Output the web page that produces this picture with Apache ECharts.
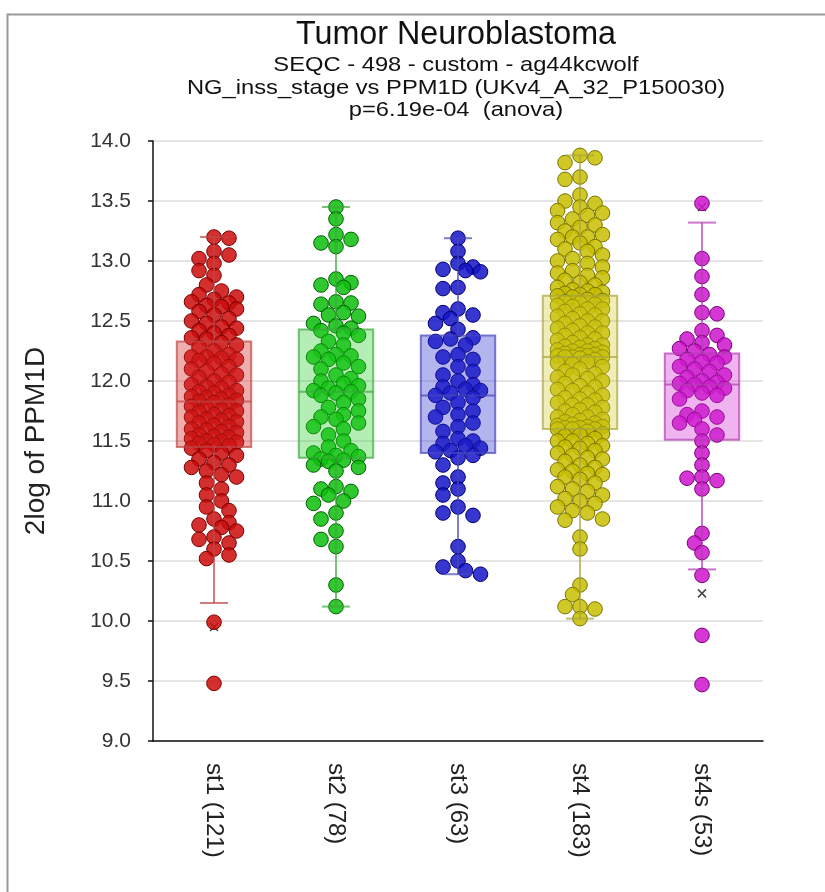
<!DOCTYPE html>
<html><head><meta charset="utf-8">
<script src="https://cdn.jsdelivr.net/npm/echarts@6/dist/echarts.min.js"></script>
<style>html,body{margin:0;padding:0;background:#fff}#c{width:825px;height:892px}</style>
</head><body><div id="c"></div>
<script>
const categories = ['st1 (121)', 'st2 (78)', 'st3 (63)', 'st4 (183)', 'st4s (53)'];
const titleText = 'Tumor Neuroblastoma';
const subtitleLines = ['SEQC - 498 - custom - ag44kcwolf', 'NG_inss_stage vs PPM1D (UKv4_A_32_P150030)', 'p=6.19e-04  (anova)'];

const st1 = [13.2,13.19,13.08,13.05,13.02,12.98,12.92,12.88,12.8,12.75,12.72,12.7,12.68,12.66,12.65,12.63,12.62,12.6,12.58,12.55,12.52,12.5,12.48,12.45,12.44,12.42,12.4,12.38,12.36,12.35,
  12.32,12.3,12.28,12.25,12.22,12.2,12.2,12.19,12.18,12.17,12.15,12.12,12.1,12.08,12.06,12.05,12.03,12.0,11.99,11.97,11.95,11.94,11.92,11.91,11.9,11.88,11.87,11.86,11.85,11.84,
  11.83,
  11.82,11.8,11.79,11.78,11.76,11.75,11.74,11.72,11.71,11.7,11.68,11.67,11.66,11.65,11.63,11.62,11.6,11.59,11.58,11.57,11.55,11.54,11.53,11.52,11.5,11.5,11.49,11.48,11.47,11.46,
  11.44,11.42,11.4,11.38,11.35,11.32,11.3,11.28,11.25,11.22,11.2,11.15,11.1,11.05,11.0,10.95,10.92,10.85,10.82,10.8,10.78,10.75,10.7,10.68,10.65,10.6,10.55,10.52,9.99,9.48];

const st2 = [13.45,13.35,13.22,13.18,13.15,13.12,12.85,12.82,12.8,12.78,12.66,12.65,12.64,12.57,12.55,12.54,12.48,12.46,12.44,
  12.42,12.4,12.38,12.33,12.3,12.25,12.22,12.21,12.2,12.18,12.15,12.12,12.1,12.05,12.02,12.0,11.98,11.96,11.94,11.92,
  11.91,11.9,
  11.88,11.85,11.82,11.78,11.75,11.72,11.7,11.68,11.65,11.62,11.6,11.55,11.5,11.45,11.42,11.4,11.38,11.37,
  11.35,11.34,11.33,11.3,11.28,11.25,11.12,11.1,11.08,11.05,11.0,10.98,10.9,10.85,10.75,10.68,10.62,10.3,10.12];

const st3 = [13.19,13.08,12.98,12.95,12.93,12.92,12.91,12.78,12.77,12.6,12.57,12.55,12.52,12.48,12.43,
  12.36,12.35,12.33,12.3,12.22,12.2,12.18,12.12,12.08,12.05,12.0,11.97,11.95,11.93,11.92,11.9,
  11.88,
  11.86,11.82,11.78,11.75,11.72,11.7,11.65,11.62,11.58,11.52,11.5,11.48,11.46,11.44,11.42,11.41,
  11.38,11.36,11.3,11.2,11.15,11.1,11.05,10.95,10.9,10.88,10.62,10.5,10.45,10.42,10.39];

const st4 = [13.88,13.86,13.82,13.7,13.68,13.55,13.5,13.48,13.45,13.42,13.4,13.38,13.35,13.32,13.3,13.28,13.25,13.22,13.2,13.2,13.18,13.15,13.12,13.1,13.08,13.05,13.02,13.0,12.98,12.95,12.92,12.9,12.88,12.86,12.84,12.82,12.8,12.78,12.76,12.75,12.74,12.73,12.72,12.72,12.71,
  12.7,12.68,12.67,12.66,12.65,12.64,12.63,12.62,12.6,12.6,12.58,12.56,12.55,12.54,12.52,12.5,12.5,12.48,12.46,12.45,12.44,12.42,12.4,12.4,12.38,12.36,12.35,12.34,12.32,12.3,12.3,12.29,12.28,12.27,12.26,12.25,12.25,12.24,12.23,12.22,12.22,12.21,12.21,12.2,12.2,12.2,
  12.19,
  12.18,12.16,12.15,12.14,12.12,12.1,12.08,12.06,12.05,12.03,12.02,12.0,11.98,11.96,11.95,11.93,11.92,11.9,11.88,11.86,11.85,11.84,11.82,11.8,11.8,11.78,11.76,11.75,11.74,11.72,11.7,11.7,11.68,11.67,11.66,11.65,11.64,11.63,11.62,11.62,11.61,11.61,11.6,11.6,11.6,
  11.58,11.56,11.55,11.54,11.52,11.5,11.5,11.48,11.46,11.45,11.44,11.42,11.4,11.38,11.36,11.35,11.33,11.3,11.28,11.26,11.25,11.23,11.22,11.2,11.18,11.15,11.12,11.1,11.08,11.05,11.02,11.0,10.98,10.95,10.92,10.9,10.85,10.84,10.7,10.6,10.3,10.22,10.12,10.12,10.1,10.02];

const st4s = [13.48,13.02,12.87,12.72,12.57,12.56,12.42,12.38,12.35,12.32,12.3,12.27,12.25,
  12.22,12.2,12.18,12.16,12.15,12.12,12.1,12.08,12.05,12.03,12.0,11.99,11.98,
  11.97,
  11.95,11.94,11.92,11.9,11.88,11.85,11.75,11.72,11.7,11.68,11.65,11.6,11.55,
  11.5,11.4,11.3,11.2,11.19,11.17,11.1,10.73,10.65,10.57,10.38,9.88,9.47];

const groups = [st1, st2, st3, st4, st4s];

const boxLow    = [10.15, 10.12, 10.39, 10.02, 10.43];
const boxQ1     = [11.45, 11.36, 11.40, 11.60, 11.51];
const boxMedian = [11.83, 11.91, 11.88, 12.20, 11.97];
const boxQ3     = [12.33, 12.43, 12.38, 12.71, 12.23];
const boxHigh   = [13.20, 13.45, 13.19, 13.88, 13.32];

const crossMarks = [[0, 9.95], [4, 13.45], [4, 10.23]];

const yMin = 9, yMax = 14, yStep = 0.5;

const pointFill   = ['rgba(204,10,10,0.85)','rgba(10,190,10,0.85)','rgba(20,20,200,0.85)','rgba(200,190,0,0.85)','rgba(204,20,204,0.85)'];
const pointStroke = ['#7a0000','#006000','#000070','#7a7400','#7a007a'];
const boxFill     = ['rgba(215,40,40,0.38)','rgba(40,205,40,0.35)','rgba(40,40,205,0.35)','rgba(205,200,40,0.33)','rgba(210,40,210,0.35)'];
const boxStroke   = ['rgba(190,70,70,0.7)','rgba(60,170,60,0.7)','rgba(70,70,190,0.7)','rgba(170,165,60,0.7)','rgba(180,60,180,0.7)'];

const GRID = {left: 153, right: 62, top: 141, bottom: 151};
const pxPerUnit = (892 - GRID.top - GRID.bottom) / (yMax - yMin);

// deterministic beeswarm layout (pixel offsets)
function swarm(vals) {
  const order = vals.map((v, i) => i).sort((a, b) => vals[b] - vals[a]);
  const placed = [];
  const offs = new Array(vals.length).fill(0);
  const step = 7.5, minD = 11.5, cands = [0, -1, 1, -2, 2, -3, 3];
  order.forEach((idx, n) => {
    const y = vals[idx] * pxPerUnit;
    let best = 0, bestScore = -1;
    const list = (n % 2) ? cands.map(k => -k) : cands;
    for (const k of list) {
      const x = k * step;
      let md = Infinity;
      for (const p of placed) {
        const dy = p[1] - y;
        if (Math.abs(dy) > 20) continue;
        const d = Math.hypot(p[0] - x, dy);
        if (d < md) md = d;
      }
      if (md >= minD) { best = x; bestScore = Infinity; break; }
      if (md > bestScore) { bestScore = md; best = x; }
    }
    offs[idx] = best;
    placed.push([best, y]);
  });
  return offs;
}

const pointData = [];
groups.forEach((g, gi) => {
  const offs = swarm(g);
  g.forEach((v, i) => pointData.push([gi, v, offs[i]]));
});

const boxData = categories.map((c, i) => [i, boxLow[i], boxQ1[i], boxMedian[i], boxQ3[i], boxHigh[i]]);

const chart = echarts.init(document.getElementById('c'), null, {renderer: 'canvas'});
const FONT = 'Liberation Sans, Arial, sans-serif';

const headerGraphics = [
  {type: 'text', x: 456, y: 35, scaleX: 0.95, silent: true,
   style: {text: titleText, font: '34px ' + FONT, fill: '#111', textAlign: 'center', textVerticalAlign: 'middle'}}
];
const subY = [65, 88.5, 110];
subtitleLines.forEach((t, i) => headerGraphics.push(
  {type: 'text', x: 456, y: subY[i], scaleX: 1.13, silent: true,
   style: {text: t, font: '21px ' + FONT, fill: '#111', textAlign: 'center', textVerticalAlign: 'middle'}}
));

chart.setOption({
  animation: false,
  backgroundColor: '#fff',
  graphic: [
    {type: 'rect', left: 5, top: 12, shape: {width: 830, height: 900},
     style: {fill: 'none', stroke: '#999', lineWidth: 2}, silent: true, z: -10},
    ...headerGraphics
  ],
  grid: GRID,
  xAxis: {
    type: 'category', data: categories, boundaryGap: true,
    axisLine: {lineStyle: {color: '#111', width: 1.5}},
    axisTick: {alignWithLabel: true, length: 5, lineStyle: {color: '#111', width: 1.5}},
    axisLabel: {rotate: -90, margin: 22, fontFamily: FONT, fontSize: 24, color: '#222'},
    splitLine: {show: false}
  },
  yAxis: {
    type: 'value', min: yMin, max: yMax, interval: yStep,
    name: '2log of PPM1D', nameLocation: 'middle', nameGap: 103, nameRotate: 90,
    nameTextStyle: {fontFamily: FONT, fontSize: 28, color: '#222'},
    axisLine: {show: true, lineStyle: {color: '#111', width: 1.5}},
    axisTick: {show: true, length: 5, lineStyle: {color: '#111', width: 1.5}},
    axisLabel: {margin: 22, fontFamily: FONT, fontSize: 21, color: '#333', formatter: v => v.toFixed(1)},
    splitLine: {show: true, lineStyle: {color: '#dcdcdc', width: 1.5}}
  },
  series: [
    {
      type: 'custom', z: 3,
      data: crossMarks,
      renderItem: (params, api) => {
        const p = api.coord([api.value(0), api.value(1)]);
        const s = 4;
        return {type: 'group', children: [
          {type: 'line', shape: {x1: p[0]-s, y1: p[1]-s, x2: p[0]+s, y2: p[1]+s}, style: {stroke: '#444', lineWidth: 1.5}},
          {type: 'line', shape: {x1: p[0]-s, y1: p[1]+s, x2: p[0]+s, y2: p[1]-s}, style: {stroke: '#444', lineWidth: 1.5}}
        ]};
      }
    },
    {
      type: 'custom', z: 4,
      data: pointData,
      renderItem: (params, api) => {
        const gi = api.value(0);
        const p = api.coord([gi, api.value(1)]);
        return {type: 'circle', shape: {cx: p[0] + api.value(2), cy: p[1], r: 7.3},
          style: {fill: pointFill[gi], stroke: pointStroke[gi], lineWidth: 1}};
      }
    },
    {
      type: 'custom', z: 5,
      data: boxData,
      renderItem: (params, api) => {
        const i = api.value(0);
        const band = api.size([1, 0])[0];
        const bw = band * 0.61, cw = band * 0.23;
        const x = api.coord([i, 0])[0];
        const yl = api.coord([i, api.value(1)])[1];
        const y1 = api.coord([i, api.value(2)])[1];
        const ym = api.coord([i, api.value(3)])[1];
        const y3 = api.coord([i, api.value(4)])[1];
        const yh = api.coord([i, api.value(5)])[1];
        const st = {stroke: boxStroke[i], lineWidth: 2};
        return {type: 'group', children: [
          {type: 'line', shape: {x1: x, y1: yh, x2: x, y2: y3}, style: st},
          {type: 'line', shape: {x1: x, y1: y1, x2: x, y2: yl}, style: st},
          {type: 'line', shape: {x1: x - cw/2, y1: yh, x2: x + cw/2, y2: yh}, style: st},
          {type: 'line', shape: {x1: x - cw/2, y1: yl, x2: x + cw/2, y2: yl}, style: st},
          {type: 'rect', shape: {x: x - bw/2, y: y3, width: bw, height: y1 - y3}, style: {fill: boxFill[i], stroke: boxStroke[i], lineWidth: 2}},
          {type: 'line', shape: {x1: x - bw/2, y1: ym, x2: x + bw/2, y2: ym}, style: st}
        ]};
      }
    }
  ]
});
</script>
</body></html>
